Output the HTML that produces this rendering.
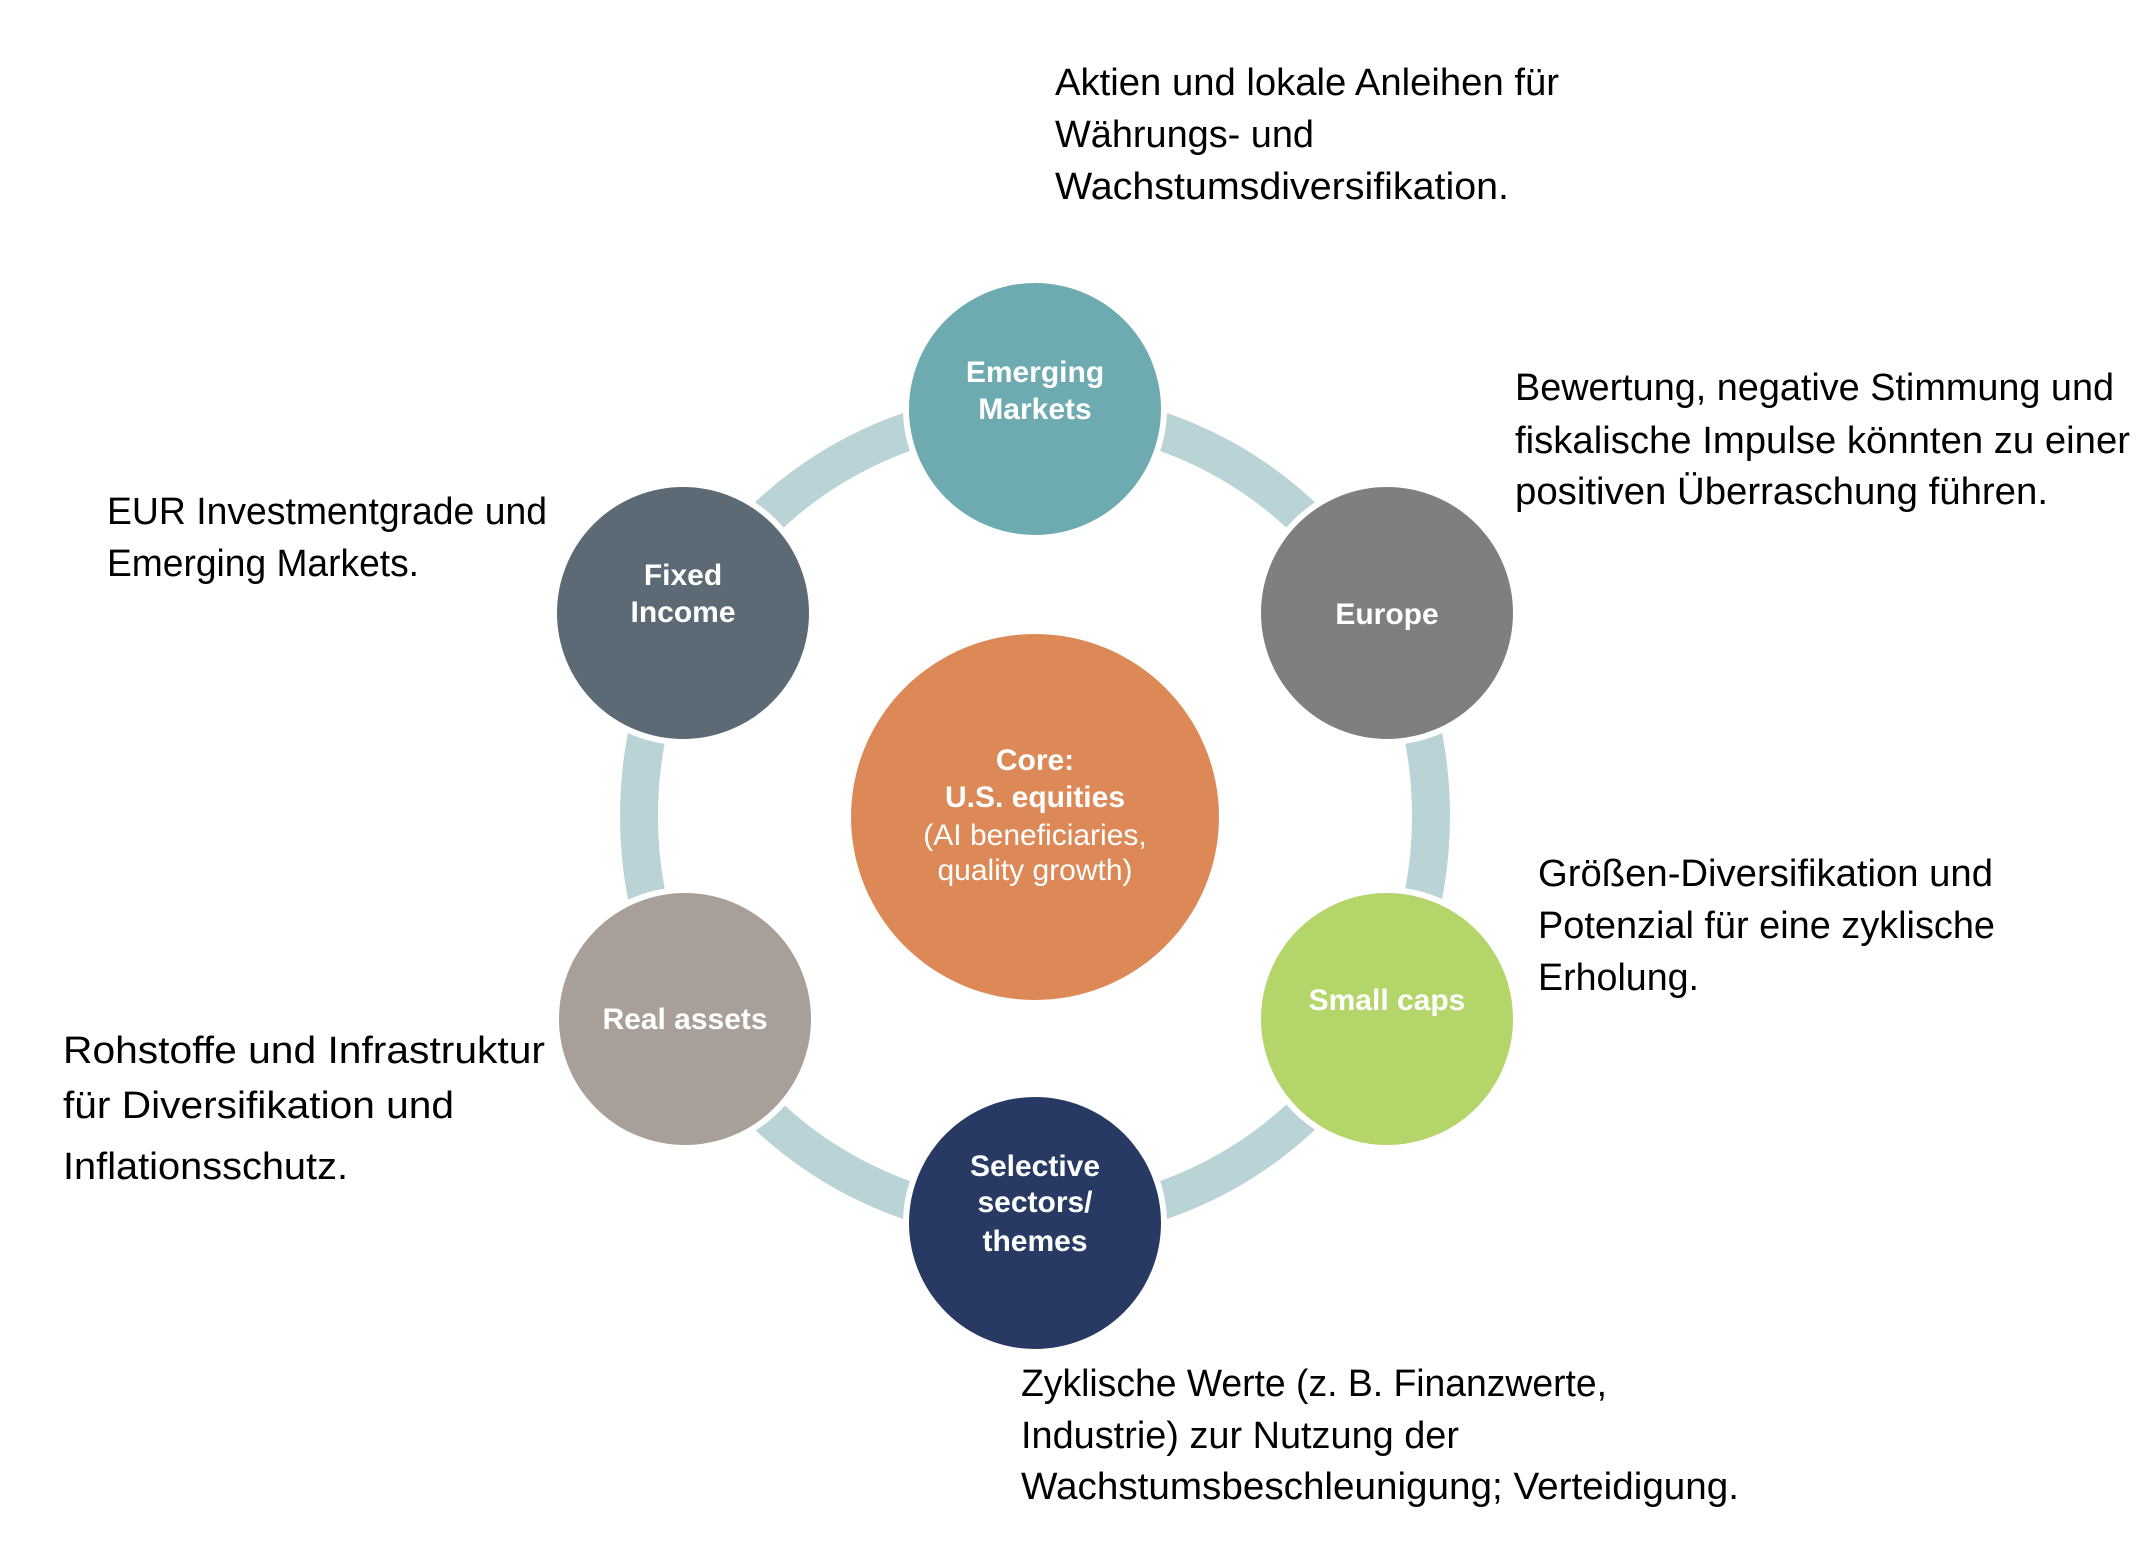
<!DOCTYPE html>
<html><head><meta charset="utf-8"><style>
html,body{margin:0;padding:0;background:#fff;}
svg{display:block;}
.t{font-family:"Liberation Sans",sans-serif;font-size:38px;fill:#000;}
.c{font-family:"Liberation Sans",sans-serif;font-size:30px;font-weight:bold;fill:#fff;text-anchor:middle;}
.cn{font-family:"Liberation Sans",sans-serif;font-size:30px;fill:#fff;text-anchor:middle;}
</style></head><body>
<svg width="2146" height="1566" viewBox="0 0 2146 1566" xmlns="http://www.w3.org/2000/svg">
<ellipse cx="1035" cy="816" rx="396" ry="406" fill="none" stroke="#b9d3d6" stroke-width="38"/>
<g stroke="#fff" stroke-width="6">
<circle cx="1035" cy="409" r="129" fill="#6eabb0"/>
<circle cx="683" cy="613" r="129" fill="#5c6a75"/>
<circle cx="1387" cy="613" r="129" fill="#7f7f7f"/>
<circle cx="685" cy="1019" r="129" fill="#a8a098"/>
<circle cx="1387" cy="1019" r="129" fill="#b3d56a"/>
<circle cx="1035" cy="1223" r="129" fill="#283a64"/>
</g>
<ellipse cx="1035" cy="817" rx="184" ry="183" fill="#dd8957"/>
<text class="c" x="1035" y="382">Emerging</text>
<text class="c" x="1035" y="419">Markets</text>
<text class="c" x="683" y="585">Fixed</text>
<text class="c" x="683" y="622">Income</text>
<text class="c" x="1387" y="624">Europe</text>
<text class="c" x="685" y="1029">Real assets</text>
<text class="c" x="1387" y="1010">Small caps</text>
<text class="c" x="1035" y="1176">Selective</text>
<text class="c" x="1035" y="1212">sectors/</text>
<text class="c" x="1035" y="1251">themes</text>
<text class="c" x="1035" y="770">Core:</text>
<text class="c" x="1035" y="807">U.S. equities</text>
<text class="cn" x="1035" y="845">(AI beneficiaries,</text>
<text class="cn" x="1035" y="880">quality growth)</text>

<text class="t" x="1055" y="95" textLength="504" lengthAdjust="spacingAndGlyphs">Aktien und lokale Anleihen für</text>
<text class="t" x="1055" y="147" textLength="259" lengthAdjust="spacingAndGlyphs">Währungs- und</text>
<text class="t" x="1055" y="199" textLength="454" lengthAdjust="spacingAndGlyphs">Wachstumsdiversifikation.</text>

<text class="t" x="1515" y="400" textLength="599" lengthAdjust="spacingAndGlyphs">Bewertung, negative Stimmung und</text>
<text class="t" x="1515" y="453" textLength="615" lengthAdjust="spacingAndGlyphs">fiskalische Impulse könnten zu einer</text>
<text class="t" x="1515" y="504" textLength="533" lengthAdjust="spacingAndGlyphs">positiven Überraschung führen.</text>

<text class="t" x="107" y="524" textLength="440" lengthAdjust="spacingAndGlyphs">EUR Investmentgrade und</text>
<text class="t" x="107" y="576" textLength="312" lengthAdjust="spacingAndGlyphs">Emerging Markets.</text>

<text class="t" x="1538" y="886" textLength="455" lengthAdjust="spacingAndGlyphs">Größen-Diversifikation und</text>
<text class="t" x="1538" y="938" textLength="457" lengthAdjust="spacingAndGlyphs">Potenzial für eine zyklische</text>
<text class="t" x="1538" y="990" textLength="161" lengthAdjust="spacingAndGlyphs">Erholung.</text>

<text class="t" x="63" y="1063" textLength="482" lengthAdjust="spacingAndGlyphs">Rohstoffe und Infrastruktur</text>
<text class="t" x="63" y="1118" textLength="391" lengthAdjust="spacingAndGlyphs">für Diversifikation und</text>
<text class="t" x="63" y="1179" textLength="285" lengthAdjust="spacingAndGlyphs">Inflationsschutz.</text>

<text class="t" x="1021" y="1396" textLength="586" lengthAdjust="spacingAndGlyphs">Zyklische Werte (z. B. Finanzwerte,</text>
<text class="t" x="1021" y="1448" textLength="438" lengthAdjust="spacingAndGlyphs">Industrie) zur Nutzung der</text>
<text class="t" x="1021" y="1499" textLength="718" lengthAdjust="spacingAndGlyphs">Wachstumsbeschleunigung; Verteidigung.</text>
</svg>
</body></html>
